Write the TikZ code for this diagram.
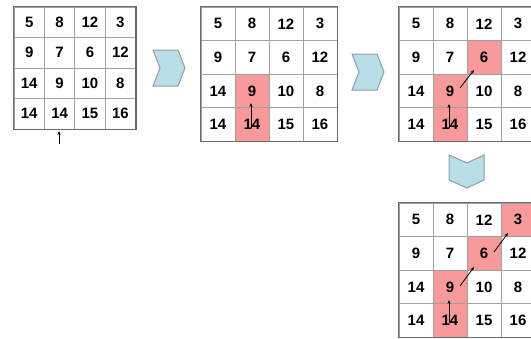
\documentclass[tikz,border=0pt]{standalone}
\usepackage{fontspec}
\setmainfont{Liberation Sans}
\usetikzlibrary{arrows.meta}
\definecolor{hlred}{HTML}{F99A9A}
\definecolor{gridgray}{HTML}{A0A0A0}
\definecolor{bordgray}{HTML}{6A6A6A}
\definecolor{chevfill}{HTML}{B9DEE8}
\definecolor{chevline}{HTML}{8E9EA4}
\tikzset{
  cell/.style={draw=gridgray, line width=0.7pt, inner sep=0pt, fill=white,
    font=\fontsize{15}{15}\selectfont\bfseries},
  hl/.style={fill=hlred},
  outerb/.style={draw=bordgray, line width=1.3pt},
  chev/.style={draw=chevline, fill=chevfill, line width=1pt, line join=miter},
  arr/.style={draw=black, line width=0.8pt, -{Stealth[length=4pt,width=3.2pt]}},
  g2-3-2/.style={hl}, g2-4-2/.style={hl},
  g3-3-2/.style={hl}, g3-4-2/.style={hl}, g3-2-3/.style={hl},
  g4-3-2/.style={hl}, g4-4-2/.style={hl}, g4-2-3/.style={hl}, g4-1-4/.style={hl},
}
\newcommand\drawgrid[5]{%
  \foreach \rowvals [count=\r] in {{5,8,12,3},{9,7,6,12},{14,9,10,8},{14,14,15,16}} {
    \foreach \v [count=\c] in \rowvals {
      \node[cell, minimum width=#4pt, minimum height=#5pt, #1-\r-\c/.try]
        (#1-\r-\c) at ({#2+(\c-0.5)*#4},{#3+(\r-0.5)*#5}) {\v};
    }
  }
  \draw[outerb] (#1-1-1.north west) rectangle (#1-4-4.south east);
}
\begin{document}
\begin{tikzpicture}[x=1pt,y=-1pt]
\useasboundingbox (0,0) rectangle (531,338);
\drawgrid{g1}{14}{7}{30.4}{30.5}
\drawgrid{g2}{201}{7}{34}{33.6}
\drawgrid{g3}{399}{7}{34}{33.6}
\drawgrid{g4}{399}{203}{34}{33.6}
% chevrons
\draw[chev] (153,50) -- (178,50) -- (185,68) -- (178,86) -- (153,86) -- (160,68) -- cycle;
\draw[chev] (352,54) -- (377,54) -- (384,72) -- (377,90) -- (352,90) -- (359,72) -- cycle;
\draw[chev] (449,155) -- (467,163) -- (484,155) -- (484,180) -- (467,188) -- (449,180) -- cycle;
% arrows
\coordinate (a1s) at (59,144);
\coordinate (a1e) at (59,131);
\draw[arr] (a1s) -- (a1e);
\coordinate (a2s) at (251,128);
\coordinate (a2e) at (251,103);
\draw[arr] (a2s) -- (a2e);
\coordinate (a3s) at (449,128);
\coordinate (a3e) at (449,104);
\draw[arr] (a3s) -- (a3e);
\coordinate (a4s) at (460,88);
\coordinate (a4e) at (474,70);
\draw[arr] (a4s) -- (a4e);
\coordinate (a5s) at (449,323);
\coordinate (a5e) at (449,300);
\draw[arr] (a5s) -- (a5e);
\coordinate (a6s) at (460,286);
\coordinate (a6e) at (474,267);
\draw[arr] (a6s) -- (a6e);
\coordinate (a7s) at (494,252);
\coordinate (a7e) at (508,233);
\draw[arr] (a7s) -- (a7e);
\end{tikzpicture}
\end{document}
